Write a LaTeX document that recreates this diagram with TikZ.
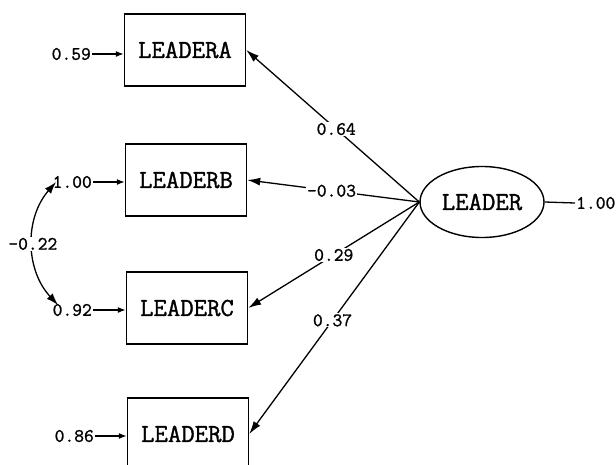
\documentclass[tikz,border=0pt]{standalone}
\usepackage{fontspec}
\newfontfamily\lblfont{Latin Modern Mono}[FakeBold=1.2]
\usetikzlibrary{arrows.meta,shapes.geometric}
\tikzset{
  obs/.style={draw, line width=1.4pt, minimum width=121pt, minimum height=72pt, inner sep=0pt, font=\lblfont\fontsize{26}{26}\selectfont},
  lat/.style={draw, ellipse, line width=1.4pt, minimum width=124pt, minimum height=71pt, inner sep=0pt, font=\lblfont\fontsize{26}{26}\selectfont},
  num/.style={fill=white, inner sep=1pt, font=\lblfont\fontsize{19}{19}\selectfont},
  errnum/.style={inner sep=1pt, font=\lblfont\fontsize{19}{19}\selectfont},
  path/.style={line width=1.3pt, -{Latex[length=13pt,width=8pt]}},
  errarr/.style={line width=1.3pt, -{Latex[length=8pt,width=6pt]}},
  cov/.style={line width=1.3pt, {Latex[length=12pt,width=8pt]}-{Latex[length=12pt,width=8pt]}},
}
\begin{document}
\begin{tikzpicture}[x=1pt,y=-1pt]
\clip (0,0) rectangle (616,464);
\fill[white] (0,0) rectangle (616,464);
\node[obs] (A) at (185,50) {LEADERA};
\node[obs] (B) at (186,180) {LEADERB};
\node[obs] (C) at (187,308) {LEADERC};
\node[obs] (D) at (188,434) {LEADERD};
\node[lat] (L) at (482,202) {LEADER};
\node[errnum, anchor=east] (eA) at (92,54) {0.59};
\node[errnum, anchor=east] (eB) at (93,182) {1.00};
\node[errnum, anchor=east] (eC) at (93,310) {0.92};
\node[errnum, anchor=east] (eD) at (95,436) {0.86};
\node[errnum, anchor=west] (eL) at (575,203) {1.00};
\draw[errarr] (eA.east) -- (eA.east -| A.west);
\draw[errarr] (eB.east) -- (eB.east -| B.west);
\draw[errarr] (eC.east) -- (eC.east -| C.west);
\draw[errarr] (eD.east) -- (eD.east -| D.west);
\draw[line width=1.3pt] (L.east) -- (eL.west);
\draw[path] (L.west) -- node[num, pos=0.48] {0.64} (A.east);
\draw[path] (L.west) -- node[num, pos=0.51] {-0.03} (B.east);
\draw[path] (L.west) -- node[num, pos=0.5] {0.29} (C.east);
\draw[path] (L.west) -- node[num, pos=0.51] {0.37} (D.east);
\coordinate (c1) at (56,182);
\coordinate (c2) at (58,305);
\draw[cov] (c1) to[bend right=42] node[num, pos=0.5] {-0.22} (c2);
\end{tikzpicture}
\end{document}
